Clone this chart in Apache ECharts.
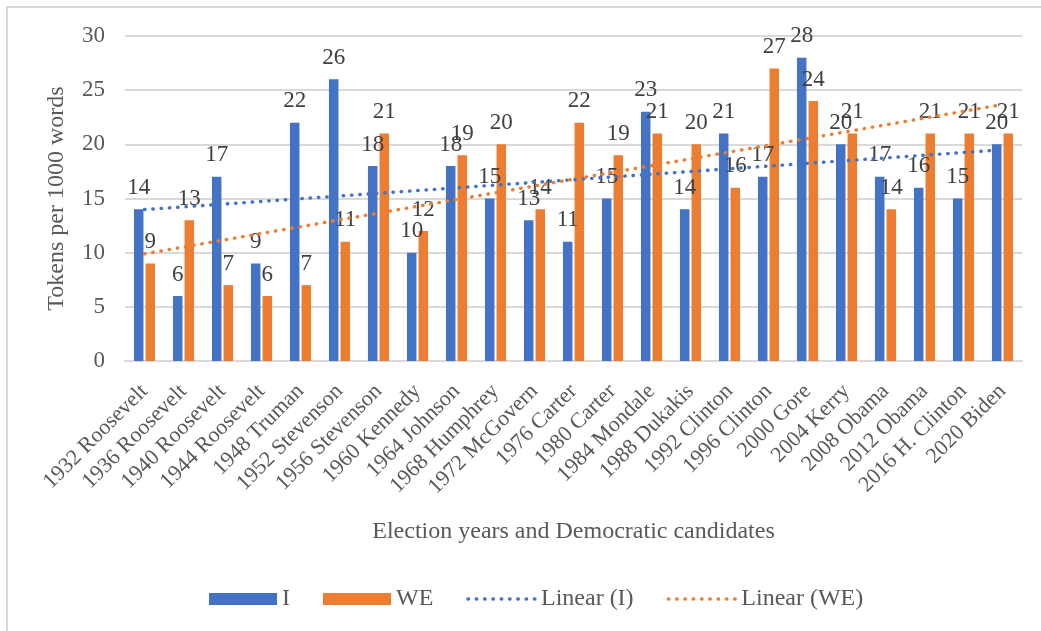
<!DOCTYPE html>
<html>
<head>
<meta charset="utf-8">
<script src="https://cdn.jsdelivr.net/npm/echarts@6/dist/echarts.min.js"></script>
<style>
  html, body { margin: 0; padding: 0; background: #fff; }
  #chart { width: 1041px; height: 631px; }
</style>
</head>
<body>
<div id="chart"></div>
<script>
// Election years and Democratic candidates
const candidates = [
  '1932 Roosevelt', '1936 Roosevelt', '1940 Roosevelt', '1944 Roosevelt',
  '1948 Truman', '1952 Stevenson', '1956 Stevenson', '1960 Kennedy',
  '1964 Johnson', '1968 Humphrey', '1972 McGovern', '1976 Carter',
  '1980 Carter', '1984 Mondale', '1988 Dukakis', '1992 Clinton',
  '1996 Clinton', '2000 Gore', '2004 Kerry', '2008 Obama',
  '2012 Obama', '2016 H. Clinton', '2020 Biden'
];

// Tokens per 1000 words
const iValues  = [14, 6, 17, 9, 22, 26, 18, 10, 18, 15, 13, 11, 15, 23, 14, 21, 17, 28, 20, 17, 16, 15, 20];
const weValues = [9, 13, 7, 6, 7, 11, 21, 12, 19, 20, 14, 22, 19, 21, 20, 16, 27, 24, 21, 14, 21, 21, 21];

const yTicks = { min: 0, max: 30, interval: 5 };

// Least-squares linear trend over the category index
function linearTrend(values) {
  const n = values.length;
  let sx = 0, sy = 0, sxx = 0, sxy = 0;
  values.forEach((v, i) => { const x = i + 1; sx += x; sy += v; sxx += x * x; sxy += x * v; });
  const slope = (n * sxy - sx * sy) / (n * sxx - sx * sx);
  const icpt = (sy - slope * sx) / n;
  return values.map((_, i) => +(icpt + slope * (i + 1)).toFixed(4));
}

const BLUE = '#4472C4';
const ORANGE = '#ED7D31';
const FONT = '"Liberation Serif", "Times New Roman", serif';

const chart = echarts.init(document.getElementById('chart'), null, { renderer: 'canvas' });

const barLabel = {
  show: true,
  position: 'top',
  distance: 10,
  color: '#404040',
  fontFamily: FONT,
  fontSize: 23
};

const dotted = (color) => ({ color: color, width: 3.4, type: [0.5, 7.8], cap: 'round' });

chart.setOption({
  animation: false,
  textStyle: { fontFamily: FONT },
  graphic: [{
    type: 'rect',
    shape: { x: 7, y: 7, width: 1060, height: 660 },
    style: { fill: 'none', stroke: '#d9d9d9', lineWidth: 2 },
    silent: true,
    z: -10
  }],
  grid: { left: 125, right: 19, top: 36, bottom: 270, containLabel: false },
  legend: {
    left: 204,
    top: 582,
    itemWidth: 68,
    itemHeight: 12,
    itemGap: 33,
    textStyle: { color: '#595959', fontFamily: FONT, fontSize: 24 },
    data: [
      { name: 'I', icon: 'rect' },
      { name: 'WE', icon: 'rect' },
      // trend entries show only the dotted line
      { name: 'Linear (I)', itemStyle: { opacity: 0 }, lineStyle: dotted(BLUE) },
      { name: 'Linear (WE)', itemStyle: { opacity: 0 }, lineStyle: dotted(ORANGE) }
    ]
  },
  xAxis: {
    type: 'category',
    data: candidates,
    name: 'Election years and Democratic candidates',
    nameLocation: 'middle',
    nameGap: 159,
    nameTextStyle: { color: '#595959', fontFamily: FONT, fontSize: 24 },
    axisLine: { lineStyle: { color: '#d9d9d9', width: 2 } },
    axisTick: { show: false },
    axisLabel: {
      rotate: 45,
      margin: 27,
      interval: 0,
      color: '#595959',
      fontFamily: FONT,
      fontSize: 22
    }
  },
  yAxis: {
    type: 'value',
    min: yTicks.min,
    max: yTicks.max,
    interval: yTicks.interval,
    name: 'Tokens per 1000 words',
    nameLocation: 'middle',
    nameGap: 56,
    nameTextStyle: { color: '#595959', fontFamily: FONT, fontSize: 24 },
    axisLine: { show: false },
    axisTick: { show: false },
    axisLabel: { margin: 20, color: '#595959', fontFamily: FONT, fontSize: 23 },
    splitLine: { lineStyle: { color: '#d9d9d9', width: 2 } }
  },
  series: [
    {
      name: 'I',
      type: 'bar',
      data: iValues,
      barWidth: 9.5,
      barGap: '22%',
      itemStyle: { color: BLUE },
      label: barLabel,
      z: 2
    },
    {
      name: 'WE',
      type: 'bar',
      data: weValues,
      barWidth: 9.5,
      barGap: '22%',
      itemStyle: { color: ORANGE },
      label: barLabel,
      z: 2
    },
    {
      name: 'Linear (I)',
      type: 'line',
      data: linearTrend(iValues),
      symbol: 'none',
      showSymbol: false,
      itemStyle: { color: BLUE },
      lineStyle: dotted(BLUE),
      z: 3
    },
    {
      name: 'Linear (WE)',
      type: 'line',
      data: linearTrend(weValues),
      symbol: 'none',
      showSymbol: false,
      itemStyle: { color: ORANGE },
      lineStyle: dotted(ORANGE),
      z: 3
    }
  ]
});
</script>
</body>
</html>
